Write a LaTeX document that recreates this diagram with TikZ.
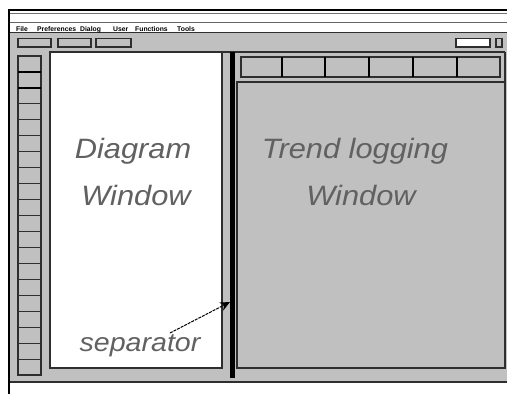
\documentclass[tikz,border=0pt]{standalone}
\usepackage{fontspec}
\setmainfont{Liberation Sans}
\newfontfamily\labelfont[FakeStretch=1.1]{Liberation Sans}
\usetikzlibrary{arrows.meta}
\definecolor{panel}{HTML}{C0C0C0}
\definecolor{edge}{HTML}{2E2E2E}

\begin{document}
\begin{tikzpicture}[x=1pt,y=-1pt,
  btn/.style={draw=edge, line width=1.1pt, fill=panel},
  wbox/.style={draw=edge, line width=1.1pt, fill=white},
  bigtext/.style={font=\labelfont\fontsize{28}{30}\selectfont\itshape, text=black!62, inner sep=0, anchor=base},
  menuitem/.style={font=\fontsize{6.8}{6.8}\selectfont\bfseries, inner sep=0, anchor=base west},
  divider/.style={line width=2.6pt, black}]
\useasboundingbox (0,0) rectangle (507,394);
\fill[white] (0,0) rectangle (507,394);

% window body
\fill[panel] (10,33) rectangle (507,382);

% title bar and menu bar rules
\draw[black!55, line width=0.8pt] (10,13) -- (507,13);
\draw[black!60, line width=0.9pt] (10,22.7) -- (507,22.7);
\draw[edge, line width=1.1pt] (10,32.6) -- (507,32.6);

% menu entries
\node[menuitem] (mFile)  at (16,31)  {File};
\node[menuitem] (mPref)  at (37,31)  {Preferences};
\node[menuitem] (mDlg)   at (80,31)  {Dialog};
\node[menuitem] (mUser)  at (113,31) {User};
\node[menuitem] (mFunc)  at (135,31) {Functions};
\node[menuitem] (mTools) at (177,31) {Tools};

% outer window frame
\draw[black, line width=2pt] (9,394) -- (9,10) -- (507,10);
\draw[edge, line width=1.8pt] (10,382) -- (507,382);

% toolbar buttons
\draw[btn] (18,38.5) rectangle (51,47);
\draw[btn] (58,38.5) rectangle (91,47);
\draw[btn] (96,38.5) rectangle (131,47);
\draw[wbox] (456,38.5) rectangle (490,47);
\draw[btn] (496,38.5) rectangle (502,47);

% tool column on the left
\draw[btn] (18,56) rectangle (41,375);
\foreach \i in {1,...,19}{
  \draw[edge, line width=1.1pt] (18,{56+\i*15.95}) -- (41,{56+\i*15.95});
}
\draw[black, line width=2pt] (18,72) -- (41,72);
\draw[black, line width=2pt] (18,88) -- (41,88);

% workspace frame
\draw[edge, line width=1.1pt] (50,52) -- (505,52);
\draw[edge, line width=1.8pt] (505,52) -- (505,368);

% diagram window
\draw[edge, line width=1.1pt, fill=white] (50,52) rectangle (222,368);

% trend toolbar
\draw[btn] (241,57) rectangle (500,77);
\foreach \x in {282,325,369,413,457}{
  \draw[divider] (\x,57) -- (\x,77);
}

% trend logging window
\draw[edge, line width=1.2pt] (237,82) rectangle (505,368);
\draw[edge, line width=2pt] (505,82) -- (505,368);

% separator bar
\node[fill=black, inner sep=0, minimum width=5pt, minimum height=326pt, anchor=north west] (sep) at (230,52) {};

% labels
\node[bigtext] (dgm)  at (133,158) {Diagram};
\node[bigtext] (dwin) at (136,205) {Window};
\node[bigtext] (trd)  at (355,158) {Trend logging};
\node[bigtext] (twin) at (361,205) {Window};
\node[bigtext, font=\labelfont\fontsize{26}{28}\selectfont\itshape] (seplabel) at (140,351) {separator};

% pointer to the separator
\coordinate (ptrfrom) at (170,333);
\coordinate (ptrto) at (sep.west |- 0,302);
\draw[black, line width=1pt, dash pattern=on 3pt off 1pt,
  -{Stealth[length=10pt,width=9pt]}] (ptrfrom) -- (ptrto);
\end{tikzpicture}
\end{document}
